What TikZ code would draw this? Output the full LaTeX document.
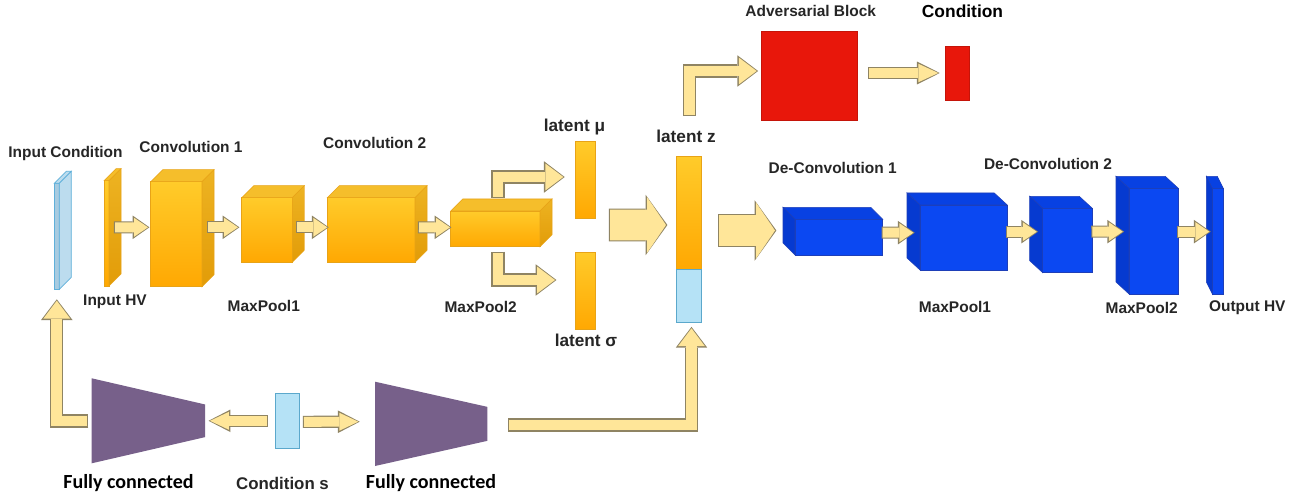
\documentclass[tikz,border=0pt]{standalone}
\usepackage{fontspec}
\setmainfont{Liberation Sans}
\newfontfamily\fcfont{Carlito}
\usetikzlibrary{arrows.meta,calc}

\definecolor{orangetop}{HTML}{FFCB2A}
\definecolor{orangebot}{HTML}{FFA802}
\definecolor{orangeline}{HTML}{E8A317}
\definecolor{orangetopface}{HTML}{F5BE2B}
\definecolor{orangeside1}{HTML}{EDB322}
\definecolor{orangeside2}{HTML}{E29C08}
\definecolor{bluefront}{HTML}{0B48F2}
\definecolor{bluetop}{HTML}{0841E2}
\definecolor{blueside}{HTML}{063AD0}
\definecolor{blueline}{HTML}{1E3FB8}
\definecolor{slabblue}{HTML}{A8CBE0}
\definecolor{slabside}{HTML}{BCDCEE}
\definecolor{slabline}{HTML}{5FB0DA}
\definecolor{condblue}{HTML}{B5E2F6}
\definecolor{condline}{HTML}{5BA8CC}
\definecolor{advred}{HTML}{E8170B}
\definecolor{fcpurple}{HTML}{77608A}
\definecolor{arrowfill}{HTML}{FFE699}
\definecolor{arrowline}{HTML}{8F8463}
\definecolor{labelgray}{HTML}{262626}

\tikzset{
  sz/.style 2 args={minimum width=#1*0.02cm, minimum height=#2*0.02cm},
  layer/.style={draw=orangeline, line width=0.3pt, top color=orangetop, bottom color=orangebot, inner sep=0pt, outer sep=0pt},
  blayer/.style={draw=blueline, line width=0.3pt, fill=bluefront, inner sep=0pt, outer sep=0pt},
  slab/.style={draw=slabline, line width=0.4pt, fill=slabblue, inner sep=0pt, outer sep=0pt},
  redblock/.style={draw=advred!85!black, line width=0.3pt, fill=advred, inner sep=0pt, outer sep=0pt},
  condbox/.style={draw=condline, line width=0.4pt, fill=condblue, inner sep=0pt, outer sep=0pt},
  hidden/.style={inner sep=0pt, outer sep=0pt},
  otop/.style={draw=orangeline, line width=0.3pt, fill=orangetopface},
  oside/.style={draw=orangeline, line width=0.3pt, top color=orangeside1, bottom color=orangeside2},
  btop/.style={draw=blueline, line width=0.3pt, fill=bluetop},
  bside/.style={draw=blueline, line width=0.3pt, fill=blueside},
  lbl/.style={font=\fontsize{8.8}{10}\selectfont\bfseries, text=labelgray, inner sep=0pt},
  biglbl/.style={font=\fontsize{9.8}{11}\selectfont\bfseries, text=labelgray, inner sep=0pt},
  fclbl/.style={font=\fcfont\bfseries\fontsize{11.4}{13}\selectfont, text=black, inner sep=0pt},
  barrow/.code n args={3}{%
    \pgfmathsetlengthmacro\bShaft{#1*0.5669pt}%
    \pgfmathsetlengthmacro\bHeadW{#2*0.5669pt}%
    \pgfmathsetlengthmacro\bHeadL{#3*0.5669pt}%
    \pgfmathsetlengthmacro\bShaftO{#1*0.5669pt+1.2pt}%
    \pgfmathsetlengthmacro\bHeadWO{#2*0.5669pt+2.6pt}%
    \pgfmathsetlengthmacro\bHeadLO{#3*0.5669pt+1.6pt}%
    \tikzset{draw=arrowfill, line width=\bShaft, line join=miter,
      -{Triangle[width=\bHeadW, length=\bHeadL, line width=0pt]},
      preaction={draw=arrowline, line width=\bShaftO, line join=miter,
        shorten <=-0.6pt, shorten >=-0.8pt,
        -{Triangle[width=\bHeadWO, length=\bHeadLO, line width=0pt]}}}},
  flowarrow/.style={barrow={10}{19}{14}},
  elbowarrow/.style={barrow={11}{27}{18}},
  bigarrow/.style={barrow={31}{56}{19}}
}

\begin{document}
\begin{tikzpicture}[x=0.02cm, y=-0.02cm]
\fill[white] (0,0) rectangle (1316,500);
\useasboundingbox (0,0) rectangle (1316,500);

\node[slab, sz={5}{106}] (incond) at (56.8,236.3) {};
\node[layer, sz={5}{105.3}] (hv) at (106.5,233.3) {};
\node[layer, sz={51.3}{105}] (conv1) at (176.35,234.2) {};
\node[layer, sz={50.6}{64.6}] (pool1) at (267,230) {};
\node[layer, sz={87.7}{64.6}] (conv2) at (371.15,230) {};
\node[layer, sz={89.3}{35.7}] (pool2) at (495.35,228.85) {};
\node[layer, sz={20}{76.6}] (mu) at (585.7,180) {};
\node[layer, sz={20}{77}] (sigma) at (585.7,290.8) {};
\node[layer, sz={25}{112.3}] (z) at (689.2,212.85) {};
\node[condbox, sz={25}{53.3}] (zc) at (689.2,295.65) {};

\filldraw[draw=slabline, line width=0.4pt, fill=slabside] (incond.north west) -- ++(12,-12) -- ($(incond.north east)+(12,-12)$) -- (incond.north east) -- cycle;
\filldraw[draw=slabline, line width=0.4pt, fill=slabside] (incond.north east) -- ++(12,-12) -- ($(incond.south east)+(12,-12)$) -- (incond.south east) -- cycle;
\foreach \n in {hv,conv1,pool1,conv2,pool2} {
  \path[otop] (\n.north west) -- ++(12,-12) -- ($(\n.north east)+(12,-12)$) -- (\n.north east) -- cycle;
  \path[oside] (\n.north east) -- ++(12,-12) -- ($(\n.south east)+(12,-12)$) -- (\n.south east) -- cycle;
}

\node[blayer, sz={87.7}{35.7}] (dc1) at (838.85,237.15) {};
\node[blayer, sz={87.3}{65}] (mp1) at (963.65,237.5) {};
\node[blayer, sz={49.6}{64.4}] (dc2) at (1067.5,240.5) {};
\node[blayer, sz={49.3}{105.7}] (mp2) at (1153.65,241.15) {};
\node[blayer, sz={11}{105.7}] (outhv) at (1217.8,241.15) {};
\foreach \n/\dep in {dc1/12,mp1/13,dc2/13,mp2/13,outhv/6} {
  \path[btop] (\n.north west) -- ++(-\dep,-12) -- ($(\n.north east)+(-\dep,-12)$) -- (\n.north east) -- cycle;
  \path[bside] (\n.north west) -- ++(-\dep,-12) -- ($(\n.south west)+(-\dep,-12)$) -- (\n.south west) -- cycle;
}

\node[redblock, sz={95.6}{89}] (adv) at (809.5,75.5) {};
\node[redblock, sz={24.3}{54}] (cond) at (957.15,73) {};

\node[condbox, sz={24}{55}] (conds) at (287,420.8) {};
\node[hidden, sz={113.3}{85}] (fc1) at (148.35,420.8) {};
\node[hidden, sz={112.3}{84.3}] (fc2) at (431.15,423.85) {};
\fill[fcpurple] (fc1.north west) -- ($(fc1.east)+(0,-16.35)$) -- ($(fc1.east)+(0,16.35)$) -- (fc1.south west) -- cycle;
\fill[fcpurple] (fc2.north west) -- ($(fc2.east)+(0,-17)$) -- ($(fc2.east)+(0,17)$) -- (fc2.south west) -- cycle;

\node[lbl] (lincond) at (65.5,153.3) {Input Condition};
\node[lbl] (lconv1) at (191,147.3) {Convolution 1};
\node[lbl] (lconv2) at (374.7,143.3) {Convolution 2};
\node[lbl] (lhv) at (115,301.7) {Input HV};
\node[lbl] (lpool1) at (263.8,306) {MaxPool1};
\node[lbl] (lpool2) at (480.7,306.7) {MaxPool2};
\node[biglbl] (lmu) at (574.5,127.3) {latent μ};
\node[biglbl] (lsigma) at (586,340.7) {latent σ};
\node[biglbl] (lz) at (686,136) {latent z};
\node[lbl] (ladv) at (810.8,11) {Adversarial Block};
\node[lbl, font=\fontsize{9.9}{11}\selectfont\bfseries, text=black] (lcond) at (962.5,11) {Condition};
\node[lbl] (ldc1) at (832.7,168.3) {De-Convolution 1};
\node[lbl] (ldc2) at (1048,164) {De-Convolution 2};
\node[lbl] (lmp1) at (955,306.7) {MaxPool1};
\node[lbl] (lmp2) at (1141.7,307.7) {MaxPool2};
\node[lbl] (louthv) at (1247.3,307.7) {Output HV};
\node[fclbl] (lfc1) at (128.5,483.3) {Fully connected};
\node[lbl, font=\fontsize{9.6}{11}\selectfont\bfseries] (lconds) at (282.5,483.3) {Condition s};
\node[fclbl] (lfc2) at (431,483.3) {Fully connected};

\draw[flowarrow] ($(hv.east)+(6,-6)$) -- ($(conv1.west)+(-2.7,-6.9)$);
\draw[flowarrow] ($(conv1.east)+(6,-6.9)$) -- ($(pool1.west)+(-3.7,-2.7)$);
\draw[flowarrow] ($(pool1.east)+(4.7,-2.7)$) -- ($(conv2.west)+(0,-2.7)$);
\draw[flowarrow] ($(conv2.east)+(4,-2.7)$) -- ($(pool2.west)+(-0.7,-1.5)$);
\draw[elbowarrow] ($(pool2.north)+(2.65,-14.3)$) |- ($(mu.west)+(-12.4,-3)$);
\draw[elbowarrow] ($(pool2.south)+(2.65,6)$) |- ($(sigma.west)+(-20.7,-10.8)$);
\draw[bigarrow] ($(pool2.east)+(70,-3.85)$) -- ($(z.west)+(-10.7,12.15)$);
\draw[bigarrow] ($(z.east)+(17.6,17.65)$) -- ($(dc1.west)+(-20,-6.65)$);
\draw[elbowarrow] ($(z.north)+(0.3,-41.7)$) |- ($(adv.west)+(-5,-4.5)$);
\draw[barrow={9.5}{18.5}{20}] ($(adv.east)+(12,-2.5)$) -- ($(cond.west)+(-6.7,0)$);
\draw[flowarrow] ($(dc1.east)+(0,-4.5)$) -- ($(mp1.west)+(-6.7,-4.8)$);
\draw[flowarrow] ($(mp1.east)+(0,-5.8)$) -- ($(dc2.west)+(-6,-8.8)$);
\draw[flowarrow] ($(dc2.east)+(0,-8.8)$) -- ($(mp2.west)+(-6.3,-9.5)$);
\draw[flowarrow] ($(mp2.east)+(0,-9.5)$) -- ($(outhv.west)+(-3,-9.5)$);
\draw[barrow={10}{18}{19}] ($(conds.west)+(-8.3,0)$) -- ($(fc1.east)+(5,0)$);
\draw[barrow={10}{18}{19}] ($(conds.east)+(5,1)$) -- ($(fc2.west)+(-16.7,-2.15)$);
\draw[elbowarrow] ($(fc1.west)+(-4.4,0.2)$) -| ($(incond.south)+(0,11.4)$);
\draw[elbowarrow] ($(fc2.east)+(22,1.15)$) -| ($(zc.south)+(2.3,6)$);
\end{tikzpicture}
\end{document}
